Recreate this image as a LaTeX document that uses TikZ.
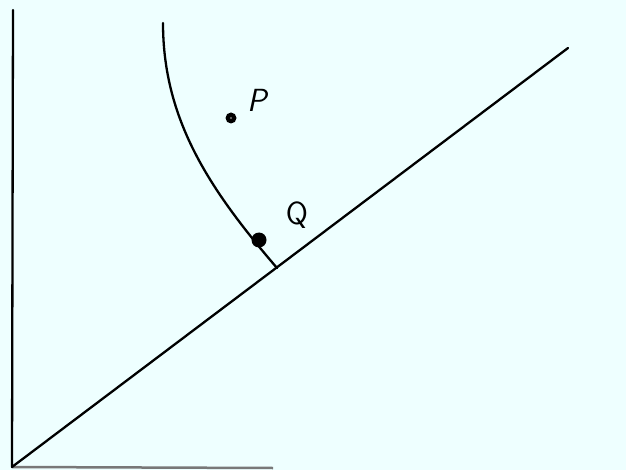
\documentclass[tikz,border=0pt]{standalone}
\definecolor{bgcyan}{RGB}{238,255,255}
\definecolor{axisgray}{RGB}{120,120,120}
\tikzset{
  inkline/.style={line width=2.3pt, black, line cap=round, line join=round},
  dotP/.style={circle, fill=black, inner sep=0pt, minimum size=11pt},
  dotQ/.style={circle, fill=black, inner sep=0pt, minimum size=15pt},
  lbl/.style={font=\fontsize{32}{32}\selectfont\sffamily, inner sep=0pt}
}
\begin{document}
\begin{tikzpicture}[x=1pt,y=-1pt]
\fill[bgcyan] (0,0) rectangle (626,470);
\useasboundingbox (0,0) rectangle (626,470);
% axes
\coordinate (O) at (12,467);
\coordinate (Ytop) at (13,10);
\coordinate (Xend) at (273,468);
\coordinate (Dend) at (568,48);
\coordinate (C0) at (163,23);
\coordinate (C1) at (277,268);
\draw[inkline] (O) -- (Ytop);
\draw[axisgray, line width=2.5pt] (O) -- (Xend);
\draw[inkline] (O) -- (Dend);
% curve
\draw[inkline] (C0) .. controls (163,120) and (210,190) .. (C1);
% points
\node[dotP] (P) at (231,118) {};
\node[dotQ] (Q) at (259,240) {};
\fill[gray] (P.center) circle (1.2pt);
\node[lbl] (Pl) at (258,100) {\textit{P}};
\node[lbl] (Ql) at (297,215) {Q};
\end{tikzpicture}
\end{document}
